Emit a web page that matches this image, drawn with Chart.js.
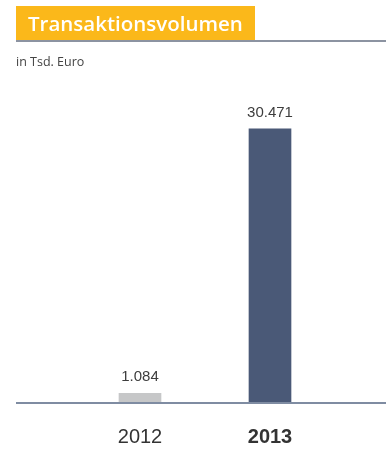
<!DOCTYPE html>
<html>
<head>
<meta charset="utf-8">
<script src="https://cdn.jsdelivr.net/npm/chart.js@4/dist/chart.umd.min.js"></script>
<style>
  html, body { margin: 0; padding: 0; background: #fff; }
  #wrap { position: relative; width: 386px; height: 454px; }
</style>
</head>
<body>
<div id="wrap"><canvas id="volumen" width="386" height="454"></canvas></div>
<script>
var years = ["2012", "2013"];
var volumen = [1084, 30471];
var barColors = ["#c6c7c8", "#4a5977"];

function formatTsd(v) {
  return String(v).replace(/\B(?=(\d{3})+(?!\d))/g, ".");
}

// header box, subtitle and the long baseline
var frame = {
  id: "frame",
  beforeDraw: function (chart) {
    var c = chart.ctx;
    c.save();
    c.fillStyle = "#fbb81a";
    c.fillRect(16, 6, 239, 35);
    c.fillStyle = "#8c93a1";
    c.fillRect(16, 40, 370, 2);
    c.fillStyle = "#fff";
    c.font = "600 20.5px 'Open Sans'";
    c.textBaseline = "alphabetic";
    c.fillText("Transaktionsvolumen", 28, 31);
    c.fillStyle = "#444";
    c.font = "12.5px 'Open Sans'";
    c.fillText("in Tsd. Euro", 16, 66);
    c.restore();
  },
  afterDatasetsDraw: function (chart) {
    var c = chart.ctx;
    var y = chart.scales.y.getPixelForValue(0);
    c.save();
    c.fillStyle = "#7f8ca2";
    c.fillRect(16, y - 1, 370, 2);
    // value labels above bars
    c.fillStyle = "#3d3d3d";
    c.font = "15px 'Liberation Sans'";
    c.textAlign = "center";
    c.textBaseline = "alphabetic";
    chart.getDatasetMeta(0).data.forEach(function (bar, i) {
      c.fillText(formatTsd(volumen[i]), bar.x, bar.y - 12);
    });
    c.restore();
  }
};

new Chart(document.getElementById("volumen"), {
  type: "bar",
  data: {
    labels: years,
    datasets: [{
      data: volumen,
      backgroundColor: barColors,
      barThickness: 42
    }]
  },
  options: {
    responsive: false,
    animation: false,
    layout: { padding: { top: 88, left: 75, right: 51, bottom: 0 } },
    plugins: { legend: { display: false }, tooltip: { enabled: false } },
    scales: {
      x: {
        grid: { display: false, drawTicks: false },
        border: { display: false },
        afterFit: function (s) { s.height = 51; },
        ticks: {
          padding: 22,
          color: "#333",
          font: function (ctx) {
            return { family: "'Liberation Sans'", size: 20, weight: ctx.index === 1 ? "bold" : "normal" };
          }
        }
      },
      y: {
        display: false,
        min: 0,
        max: 35000
      }
    }
  },
  plugins: [frame]
});
</script>
</body>
</html>
